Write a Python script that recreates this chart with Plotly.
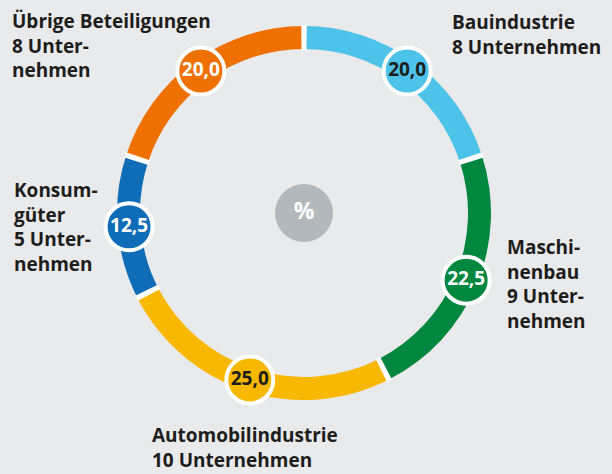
import plotly.graph_objects as go

categories = ["Bauindustrie", "Maschinenbau", "Automobilindustrie", "Konsumgüter", "Übrige Beteiligungen"]
shares = [20.0, 22.5, 25.0, 12.5, 20.0]
value_labels = ["20,0", "22,5", "25,0", "12,5", "20,0"]
label_texts = [
    "Bauindustrie<br>8 Unternehmen",
    "Maschi-<br>nenbau<br>9 Unter-<br>nehmen",
    "Automobilindustrie<br>10 Unternehmen",
    "Konsum-<br>güter<br>5 Unter-<br>nehmen",
    "Übrige Beteiligungen<br>8 Unter-<br>nehmen",
]
colors = ["#4dc3ea", "#00873f", "#f8b800", "#0f6db7", "#ee7100"]
value_text_colors = ["#1d1d1b", "#ffffff", "#1d1d1b", "#ffffff", "#ffffff"]

BG = "#e9eaec"
FONT = "Open Sans"
W, H = 612, 474
CX, CY = 304, 213          # ring centre in px (from top-left)
R_RANGE = 200               # radial units == px
INNER, THICK = 164, 23
MID = INNER + THICK / 2

total = sum(shares)
starts, mids, spans = [], [], []
acc = 0.0
for s in shares:
    span = s / total * 360
    starts.append(acc)
    mids.append(acc + span / 2)
    spans.append(span)
    acc += span

fig = go.Figure()
fig.add_trace(go.Barpolar(
    theta=mids, width=spans, r=[THICK] * len(shares), base=[INNER] * len(shares),
    marker=dict(color=colors, line=dict(width=0)), hoverinfo="skip", showlegend=False,
))
# white gaps at segment boundaries
fig.add_trace(go.Barpolar(
    theta=starts, width=[1.7] * len(starts), r=[THICK + 2] * len(starts), base=[INNER - 1] * len(starts),
    marker=dict(color="#ffffff", line=dict(width=0)), hoverinfo="skip", showlegend=False,
))
# value circles
fig.add_trace(go.Scatterpolar(
    r=[MID] * len(shares), theta=mids, mode="markers+text", text=value_labels,
    textposition="middle center",
    textfont=dict(family=FONT, size=19, color=value_text_colors, weight="bold"),
    marker=dict(size=47, color=colors, line=dict(color="#ffffff", width=4)),
    hoverinfo="skip", showlegend=False,
))
# centre circle
fig.add_trace(go.Scatterpolar(
    r=[0], theta=[0], mode="markers+text", text=["%"], textposition="middle center",
    textfont=dict(family=FONT, size=23, color="#ffffff", weight="bold"),
    marker=dict(size=58, color="#b3b8bd", line=dict(width=0)),
    hoverinfo="skip", showlegend=False,
))

fig.update_layout(
    width=W, height=H, paper_bgcolor=BG, plot_bgcolor=BG,
    margin=dict(l=0, r=0, t=0, b=0),
    polar=dict(
        domain=dict(x=[(CX - R_RANGE) / W, (CX + R_RANGE) / W],
                    y=[(H - CY - R_RANGE) / H, (H - CY + R_RANGE) / H]),
        bgcolor="rgba(0,0,0,0)",
        radialaxis=dict(range=[0, R_RANGE], visible=False, showgrid=False),
        angularaxis=dict(rotation=90, direction="clockwise", visible=False, showgrid=False),
        barmode="overlay",
    ),
)

# (left x, vertical centre y) of each label block, px from top-left
label_pos = [(450, 34), (505, 284), (150, 447), (12, 227), (10, 45)]
for txt, (x, y) in zip(label_texts, label_pos):
    fig.add_annotation(
        x=x / W, y=1 - y / H, xref="paper", yref="paper", xanchor="left", yanchor="middle",
        text=txt, showarrow=False, align="left",
        font=dict(family=FONT, size=19, color="#1d1d1b", weight="bold"),
    )

fig.write_html(
    "out.html",
    config={"displayModeBar": False},
    post_script="document.body.style.margin='0';document.body.style.background='%s';" % BG,
)
